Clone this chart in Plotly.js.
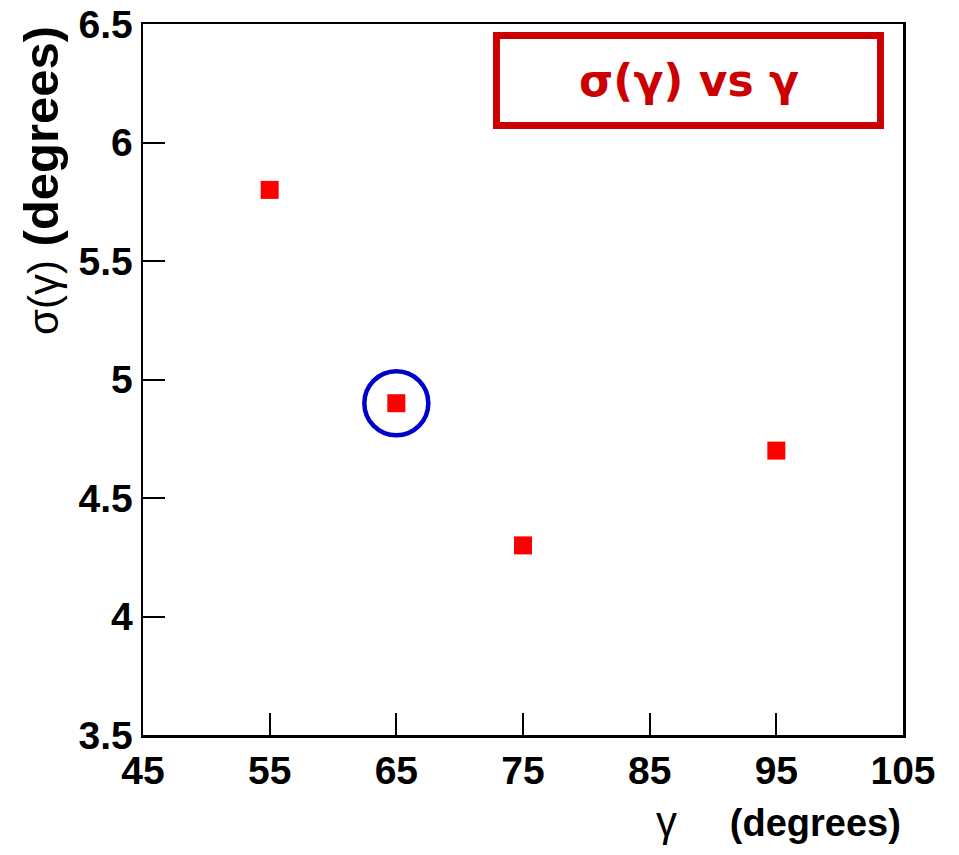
<!DOCTYPE html>
<html>
<head>
<meta charset="utf-8">
<script src="https://cdn.plot.ly/plotly-3.0.1.min.js"></script>
<style>html,body{margin:0;padding:0;background:#fff;}#chart{width:959px;height:855px;}</style>
</head>
<body>
<div id="chart"></div>
<script>
// Data
const gammaValues = [55, 65, 75, 95];
const sigmaValues = [5.8, 4.9, 4.3, 4.7];
const highlightIndex = 1;
const xTickValues = [45, 55, 65, 75, 85, 95, 105];
const yTickValues = [3.5, 4, 4.5, 5, 5.5, 6, 6.5];
const yTickLabels = ['3.5', '4', '4.5', '5', '5.5', '6', '6.5'];
const legendText = 'σ(γ) vs γ';
const xTitle = '<span style="font-weight:normal;font-size:42px">γ</span>\u00a0\u00a0\u00a0\u00a0\u00a0(degrees)';
const yTitle = '<span style="font-weight:normal;font-size:42px">σ(γ)</span>\u00a0(degrees)';

const FONT = 'Liberation Sans, Arial, sans-serif';

const traces = [
  {
    x: gammaValues, y: sigmaValues, type: 'scatter', mode: 'markers',
    marker: {symbol: 'square', size: 18, color: '#ff0000', line: {width: 0}},
    showlegend: false, hoverinfo: 'x+y'
  },
  {
    x: [gammaValues[highlightIndex]], y: [sigmaValues[highlightIndex]],
    type: 'scatter', mode: 'markers',
    marker: {symbol: 'circle-open', size: 64, color: '#0000cc', line: {width: 4.5, color: '#0000cc'}},
    showlegend: false, hoverinfo: 'skip'
  }
];

const layout = {
  width: 959, height: 855,
  margin: {l: 143, r: 56, t: 24, b: 120},
  paper_bgcolor: '#ffffff', plot_bgcolor: '#ffffff',
  font: {family: FONT, color: '#000000'},
  xaxis: {
    range: [45, 105], tickvals: xTickValues, ticktext: xTickValues.map(String),
    ticks: 'inside', ticklen: 22, tickwidth: 2, tickcolor: '#000',
    showline: true, linewidth: 2.5, linecolor: '#000', mirror: true,
    showgrid: false, zeroline: false,
    tickfont: {family: FONT, size: 39, color: '#000', weight: 'bold'},
    ticklabelstandoff: 0
  },
  yaxis: {
    range: [3.5, 6.5], tickvals: yTickValues, ticktext: yTickLabels,
    ticks: 'inside', ticklen: 22, tickwidth: 2, tickcolor: '#000',
    showline: true, linewidth: 2.5, linecolor: '#000', mirror: true,
    showgrid: false, zeroline: false,
    tickfont: {family: FONT, size: 39, color: '#000', weight: 'bold'},
    ticklabelstandoff: 0
  },
  shapes: [
    {type: 'rect', xref: 'paper', yref: 'paper', x0: 0.4651, x1: 0.9704, y0: 0.8573, y1: 0.9838,
     line: {color: '#cc0000', width: 7}, fillcolor: '#ffffff', layer: 'above'}
  ],
  annotations: [
    {text: legendText, xref: 'paper', yref: 'paper', x: 0.7178, y: 0.9205, xanchor: 'center', yanchor: 'middle',
     showarrow: false, font: {family: 'DejaVu Sans, sans-serif', size: 44, color: '#cc0000', weight: 'bold'}},
    {text: xTitle, xref: 'paper', yref: 'paper', x: 1.0, y: -0.086, xanchor: 'right', yanchor: 'top',
     showarrow: false, font: {family: FONT, size: 38, color: '#000', weight: 'bold'}},
    {text: yTitle, xref: 'paper', yref: 'paper', x: -0.135, y: 1.0, xanchor: 'center', yanchor: 'top',
     textangle: -90, showarrow: false, font: {family: FONT, size: 49, color: '#000', weight: 'bold'}}
  ]
};

Plotly.newPlot('chart', traces, layout, {displayModeBar: false, staticPlot: true});
</script>
</body>
</html>
